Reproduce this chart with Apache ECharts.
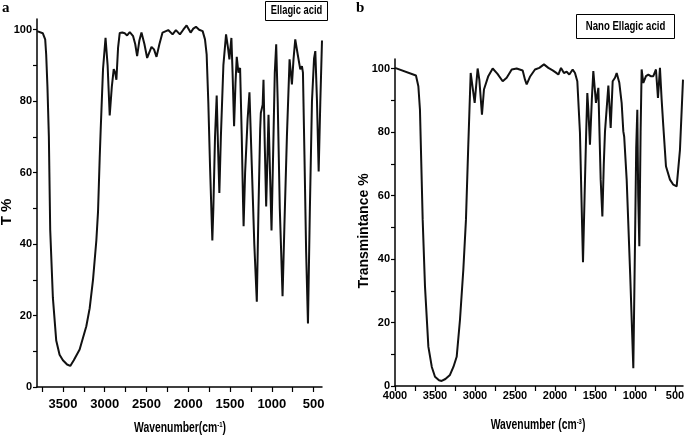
<!DOCTYPE html>
<html>
<head>
<meta charset="utf-8">
<script src="https://cdn.jsdelivr.net/npm/echarts@6/dist/echarts.min.js"></script>
<style>
html, body { margin: 0; padding: 0; background: #fff; }
#chart { width: 685px; height: 439px; }
</style>
</head>
<body>
<div id="chart"></div>
<script>
// panel a : Ellagic acid
var waveA = [3810, 3740, 3712, 3700, 3685, 3668, 3652, 3620, 3580, 3540, 3500, 3450, 3412, 3370, 3300, 3220, 3180, 3140, 3100, 3080, 3060, 3048, 3020, 2990, 2965, 2940, 2915, 2892, 2875, 2860, 2840, 2820, 2790, 2760, 2732, 2700, 2660, 2635, 2612, 2585, 2560, 2525, 2492, 2460, 2440, 2410, 2380, 2345, 2308, 2240, 2188, 2148, 2100, 2060, 2020, 1972, 1940, 1908, 1870, 1828, 1800, 1780, 1760, 1740, 1720, 1712, 1700, 1680, 1660, 1645, 1628, 1610, 1580, 1548, 1525, 1508, 1484, 1470, 1452, 1435, 1420, 1400, 1380, 1360, 1345, 1338, 1320, 1290, 1268, 1240, 1210, 1180, 1160, 1140, 1132, 1110, 1100, 1085, 1068, 1055, 1040, 1020, 1004, 985, 965, 948, 930, 905, 872, 850, 820, 788, 760, 740, 720, 690, 660, 640, 628, 610, 590, 568, 545, 520, 495, 480, 460, 440, 420, 400];
var transA = [99.6, 99.0, 97.3, 93, 84, 70, 44, 25, 13, 9, 7.5, 6.3, 5.9, 7.5, 10.5, 17, 22, 30, 41, 49, 64, 72, 89, 97.7, 90, 76, 84, 89, 88, 86, 95, 99.1, 99.2, 99, 98.4, 99.3, 98.2, 96, 92.6, 97, 99.2, 96, 92.1, 94, 95.2, 94.5, 92.4, 96, 99.2, 99.9, 98.7, 99.9, 98.7, 100, 101.2, 99.2, 100.3, 100.8, 100, 99.6, 97.3, 93, 79.5, 62, 46.8, 41, 50, 70, 81.6, 68, 54.3, 70, 90, 98.7, 95, 91.7, 97.7, 88, 73, 85, 92.4, 88, 89.3, 70, 52, 45, 60, 75, 82.5, 62, 40, 23.9, 50, 72, 76.7, 79, 86, 68, 50.5, 62, 76.2, 58, 43.8, 65, 88, 95.9, 80, 50, 25.4, 45, 70, 91.7, 84.7, 92, 97.3, 93, 88.9, 89.8, 88, 65, 38, 17.8, 50, 80, 92, 94, 80, 60.3, 80, 97];

// panel b : Nano Ellagic acid
var waveB = [4000, 3738, 3708, 3688, 3654, 3625, 3583, 3540, 3500, 3450, 3417, 3370, 3313, 3270, 3229, 3188, 3146, 3113, 3085, 3054, 3035, 3004, 2967, 2946, 2913, 2888, 2863, 2834, 2779, 2721, 2654, 2604, 2541, 2479, 2404, 2375, 2354, 2335, 2313, 2250, 2196, 2138, 2083, 2029, 1988, 1958, 1925, 1888, 1854, 1821, 1779, 1750, 1721, 1688, 1663, 1650, 1630, 1610, 1596, 1583, 1563, 1540, 1521, 1488, 1458, 1429, 1408, 1390, 1375, 1333, 1304, 1279, 1250, 1229, 1196, 1167, 1146, 1135, 1104, 1060, 1021, 1000, 985, 971, 960, 946, 930, 917, 896, 863, 833, 804, 771, 738, 713, 688, 667, 646, 613, 563, 521, 479, 438, 400];
var transB = [100.2, 97.8, 94.4, 87, 52.4, 31.3, 12.4, 6, 2.9, 1.8, 1.6, 2.2, 3.5, 6, 9.2, 20.8, 36.6, 52.4, 75, 98.6, 99, 89.2, 100, 96.5, 85.5, 93.4, 93.4, 97.6, 100, 98.4, 96, 97.1, 99.7, 100, 99.4, 96.5, 95, 95.4, 97.4, 99.7, 100.2, 101.3, 100.2, 99.4, 98.7, 98.1, 100.2, 98.6, 99, 98.1, 99.7, 98.6, 96, 79.7, 52.4, 39, 60, 80, 92.3, 87, 76, 90, 99.2, 89.2, 93.9, 65, 53.4, 70, 80.2, 94.6, 81.3, 96, 97.1, 98.6, 95.5, 89.2, 80.2, 78.5, 65, 35, 5.6, 45, 75, 87, 60, 44, 80, 99.7, 95.5, 97.6, 98.1, 97.6, 97.6, 99.7, 90.7, 100.2, 90.2, 81.8, 69.2, 65, 63.4, 62.9, 74.4, 96.5];

var xTicks = [500, 750, 1000, 1250, 1500, 1750, 2000, 2250, 2500, 2750, 3000, 3250, 3500, 3750, 4000];
var xLabelsA = [500, 1000, 1500, 2000, 2500, 3000, 3500];
var xLabelsB = [500, 1000, 1500, 2000, 2500, 3000, 3500, 4000];
var yTicks = [0, 10, 20, 30, 40, 50, 60, 70, 80, 90, 100];
var yLabels = [0, 20, 40, 60, 80, 100];

var sans = '"Liberation Sans", Arial, sans-serif';

function pairs(w, t) {
    var out = [];
    for (var i = 0; i < w.length; i++) {
        out.push([w[i], t[i]]);
    }
    return out;
}

function plain(v) { return String(v); }

function xAx(idx, max, labels, size, margin) {
    return {
        gridIndex: idx, type: 'value', inverse: true, min: 400, max: max,
        axisLine: { onZero: false, lineStyle: { color: '#000', width: 1.5 } },
        axisTick: { customValues: xTicks.filter(function (v) { return v <= max; }), length: 5, lineStyle: { color: '#000', width: 1.2 } },
        axisLabel: { customValues: labels, formatter: plain, margin: margin, color: '#000', fontSize: size, fontWeight: 'bold', fontFamily: sans },
        splitLine: { show: false }
    };
}

function yAx(idx) {
    return {
        gridIndex: idx, type: 'value', min: 0, max: 103,
        axisLine: { show: true, onZero: false, lineStyle: { color: '#000', width: 1.5 } },
        axisTick: { customValues: yTicks, length: 4, lineStyle: { color: '#000', width: 1.2 } },
        axisLabel: { customValues: yLabels, formatter: plain, margin: 5, color: '#000', fontSize: 11, fontWeight: 'bold', fontFamily: sans },
        splitLine: { show: false }
    };
}

function label(x, y, text, size, sx) {
    return {
        type: 'text', x: x, y: y, scaleX: sx,
        style: {
            text: text, align: 'center', verticalAlign: 'middle', fontFamily: sans, fontWeight: 'bold', fontSize: size, fill: '#000',
            rich: { s: { fontSize: 8, verticalAlign: 'top', fontFamily: sans, fontWeight: 'bold', lineHeight: 8 } }
        }
    };
}

var chart = echarts.init(document.getElementById('chart'));

chart.setOption({
    animation: false,
    backgroundColor: '#fff',
    grid: [
        { left: 37, top: 19, width: 285, height: 368, outerBoundsMode: 'none' },
        { left: 395, top: 59, width: 288, height: 327, outerBoundsMode: 'none' }
    ],
    xAxis: [xAx(0, 3810, xLabelsA, 13, 11), xAx(1, 4000, xLabelsB, 11, 4)],
    yAxis: [yAx(0), yAx(1)],
    series: [
        { type: 'line', xAxisIndex: 0, yAxisIndex: 0, data: pairs(waveA, transA), showSymbol: false, lineStyle: { color: '#111', width: 2 } },
        { type: 'line', xAxisIndex: 1, yAxisIndex: 1, data: pairs(waveB, transB), showSymbol: false, lineStyle: { color: '#111', width: 2 } }
    ],
    graphic: [
        { type: 'text', left: 2, top: 1, style: { text: 'a', fontFamily: '"Liberation Serif", serif', fontWeight: 'bold', fontSize: 15, fill: '#000' } },
        { type: 'text', left: 356, top: 1, style: { text: 'b', fontFamily: '"Liberation Serif", serif', fontWeight: 'bold', fontSize: 15, fill: '#000' } },
        { type: 'rect', shape: { x: 265.5, y: 1.5, width: 62, height: 19 }, style: { fill: '#fff', stroke: '#000', lineWidth: 1 } },
        label(296.5, 11, 'Ellagic acid', 12, 0.78),
        { type: 'rect', shape: { x: 576.5, y: 14.5, width: 98, height: 24 }, style: { fill: '#fff', stroke: '#000', lineWidth: 1 } },
        label(625.5, 27, 'Nano Ellagic acid', 12, 0.8),
        { type: 'text', x: 7, y: 212, rotation: Math.PI / 2, style: { text: 'T %', align: 'center', verticalAlign: 'middle', fontFamily: sans, fontWeight: 'bold', fontSize: 15, fill: '#000' } },
        { type: 'text', x: 364, y: 231, rotation: Math.PI / 2, style: { text: 'Transmintance %', align: 'center', verticalAlign: 'middle', fontFamily: sans, fontWeight: 'bold', fontSize: 14, fill: '#000' } },
        label(180, 428, 'Wavenumber(cm{s|-1})', 14, 0.74),
        label(538, 425, 'Wavenumber (cm{s|-3})', 14, 0.74)
    ]
});
</script>
</body>
</html>
